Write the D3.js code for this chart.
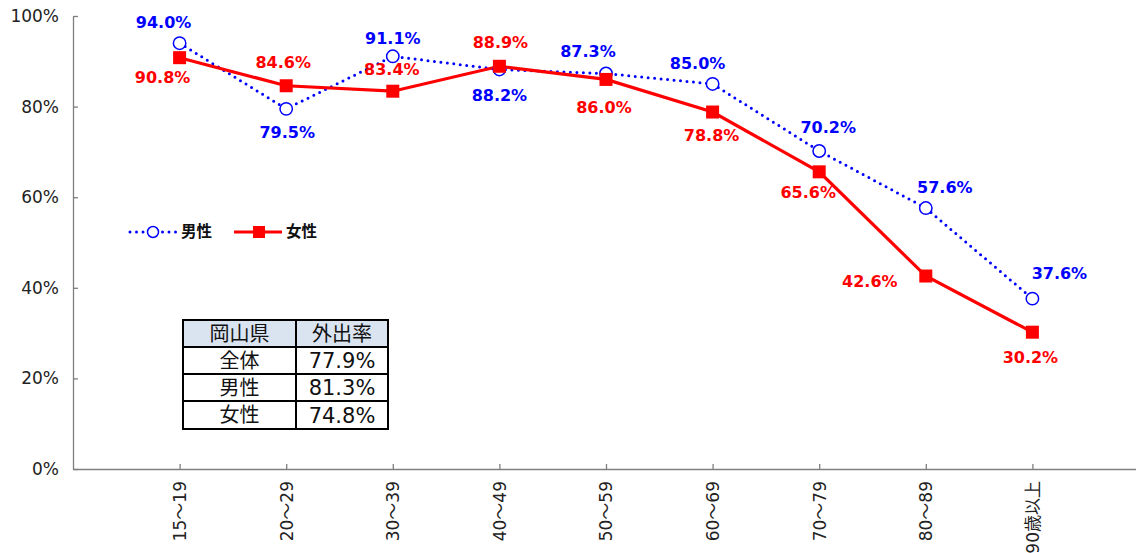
<!DOCTYPE html>
<html><head><meta charset="utf-8">
<script src="https://cdn.jsdelivr.net/npm/d3@7"></script>
<style>
body{margin:0;background:#fff;}
svg{display:block;font-family:"Noto Sans CJK JP","Noto Sans",sans-serif;}
</style></head>
<body>
<svg id="c" width="1136" height="553"></svg>
<script>
const categories = ["15～19","20～29","30～39","40～49","50～59","60～69","70～79","80～89","90歳以上"];
const maleValues = [94.0,79.5,91.1,88.2,87.3,85.0,70.2,57.6,37.6];
const femaleValues = [90.8,84.6,83.4,88.9,86.0,78.8,65.6,42.6,30.2];
const yTicks = [0,20,40,60,80,100];
const seriesNames = ["男性","女性"];
const tableHeader = ["岡山県","外出率"];
const tableRows = [["全体","77.9%"],["男性","81.3%"],["女性","74.8%"]];

// layout: data label offsets (px) relative to each marker
const maleLabelDX = [-16,1,0,0,-18,-15,9,19,27];
const maleLabelDY = [-21,24,-18,26,-22,-21,-24,-21,-25];
const femaleLabelDX = [-17,-3,-1,1,-2,-1,-11,-56,-2];
const femaleLabelDY = [20,-23,-22,-24,28,23,21,5,25];

(function(){
const svg = d3.select("#c");
const mL = 73, mR = 1139, mT = 16, mB = 469;
const x = d3.scalePoint().domain(categories).range([mL, mR]).padding(1);
const y = d3.scaleLinear().domain([0,100]).range([mB, mT]);
const blue = "#0000ff", red = "#ff0000", axisCol = "#7f7f7f";
const numFont = "'DejaVu Sans','Noto Sans CJK JP',sans-serif";

// axes
const yAxis = svg.append("g").attr("transform",`translate(${mL},0)`)
  .call(d3.axisLeft(y).tickValues(yTicks).tickFormat(d=>d+"%").tickSizeInner(-5).tickSizeOuter(0).tickPadding(14));
yAxis.select(".domain").attr("stroke",axisCol).attr("stroke-width",1.3);
yAxis.selectAll(".tick line").attr("stroke",axisCol).attr("stroke-width",1.3);
yAxis.selectAll("text").attr("font-size",17).attr("fill","#222").attr("font-family",numFont);

const xAxis = svg.append("g").attr("transform",`translate(0,${mB})`)
  .call(d3.axisBottom(x).tickSizeInner(-5).tickSizeOuter(0).tickPadding(0));
xAxis.select(".domain").attr("stroke",axisCol).attr("stroke-width",1.3);
xAxis.selectAll(".tick line").attr("stroke",axisCol).attr("stroke-width",1.3);
xAxis.selectAll("text")
  .attr("font-size",17).attr("fill","#222")
  .attr("font-family",numFont)
  .attr("transform","rotate(-90)")
  .attr("x",-12).attr("y",0).attr("dy","0.35em")
  .attr("text-anchor","end");

// lines
const line = d3.line().x((d,i)=>x(categories[i])).y(d=>y(d));
svg.append("path").datum(maleValues).attr("d",line).attr("fill","none")
  .attr("stroke",blue).attr("stroke-width",3).attr("stroke-dasharray","0 6.5").attr("stroke-linecap","round");
svg.append("path").datum(femaleValues).attr("d",line).attr("fill","none")
  .attr("stroke",red).attr("stroke-width",3.2);

svg.selectAll(".mk-m").data(maleValues).enter().append("circle")
  .attr("cx",(d,i)=>x(categories[i])).attr("cy",d=>y(d)).attr("r",6.2)
  .attr("fill","#fff").attr("stroke",blue).attr("stroke-width",1.5);
svg.selectAll(".mk-f").data(femaleValues).enter().append("rect")
  .attr("x",(d,i)=>x(categories[i])-6.5).attr("y",d=>y(d)-6.5).attr("width",13).attr("height",13)
  .attr("fill",red);

// data labels
function labels(vals,dxs,dys,col){
  svg.append("g").selectAll("text").data(vals).enter().append("text")
    .attr("x",(d,i)=>x(categories[i])+dxs[i])
    .attr("y",(d,i)=>y(d)+dys[i])
    .attr("dy","0.35em").attr("text-anchor","middle")
    .attr("font-size",16).attr("font-weight","bold").attr("fill",col)
    .attr("font-family","Verdana,'DejaVu Sans',sans-serif")
    .text(d=>d.toFixed(1)+"%");
}
labels(maleValues,maleLabelDX,maleLabelDY,blue);
labels(femaleValues,femaleLabelDX,femaleLabelDY,red);

// legend
const lg = svg.append("g").attr("transform","translate(0,232)");
lg.append("line").attr("x1",130).attr("x2",176).attr("y1",0).attr("y2",0)
  .attr("stroke",blue).attr("stroke-width",3).attr("stroke-dasharray","0 6.5").attr("stroke-linecap","round");
lg.append("circle").attr("cx",153).attr("cy",0).attr("r",5.5).attr("fill","#fff").attr("stroke",blue).attr("stroke-width",1.5);
lg.append("text").attr("x",181).attr("y",0).attr("dy","0.35em").attr("font-size",15.5).attr("font-weight","bold").attr("fill","#111").text(seriesNames[0]);
lg.append("line").attr("x1",234).attr("x2",282).attr("y1",0).attr("y2",0).attr("stroke",red).attr("stroke-width",3.2);
lg.append("rect").attr("x",253).attr("y",-6).attr("width",12).attr("height",12).attr("fill",red);
lg.append("text").attr("x",286).attr("y",0).attr("dy","0.35em").attr("font-size",15.5).attr("font-weight","bold").attr("fill","#111").text(seriesNames[1]);

// table
const tx = [183,296,388], ty = [320,347,374,401,429];
const tg = svg.append("g");
tg.append("rect").attr("x",tx[0]).attr("y",ty[0]).attr("width",tx[2]-tx[0]).attr("height",ty[1]-ty[0]).attr("fill","#dae3f0");
const allRows = [tableHeader].concat(tableRows);
allRows.forEach((r,ri)=>{
  r.forEach((c,ci)=>{
    const isNum = ri>0 && ci===1;
    tg.append("text").attr("x",(tx[ci]+tx[ci+1])/2).attr("y",(ty[ri]+ty[ri+1])/2).attr("dy","0.36em")
      .attr("text-anchor","middle").attr("font-size",isNum?21:20).attr("fill","#111")
      .attr("font-family",isNum?numFont:"'Noto Sans CJK JP',sans-serif").text(c);
  });
});
tg.append("rect").attr("x",tx[0]).attr("y",ty[0]).attr("width",tx[2]-tx[0]).attr("height",ty[4]-ty[0]).attr("fill","none").attr("stroke","#000").attr("stroke-width",2);
ty.slice(1,4).forEach(yy=>tg.append("line").attr("x1",tx[0]).attr("x2",tx[2]).attr("y1",yy).attr("y2",yy).attr("stroke","#000").attr("stroke-width",2));
tg.append("line").attr("x1",tx[1]).attr("x2",tx[1]).attr("y1",ty[0]).attr("y2",ty[4]).attr("stroke","#000").attr("stroke-width",2);
})();
</script>
</body></html>
